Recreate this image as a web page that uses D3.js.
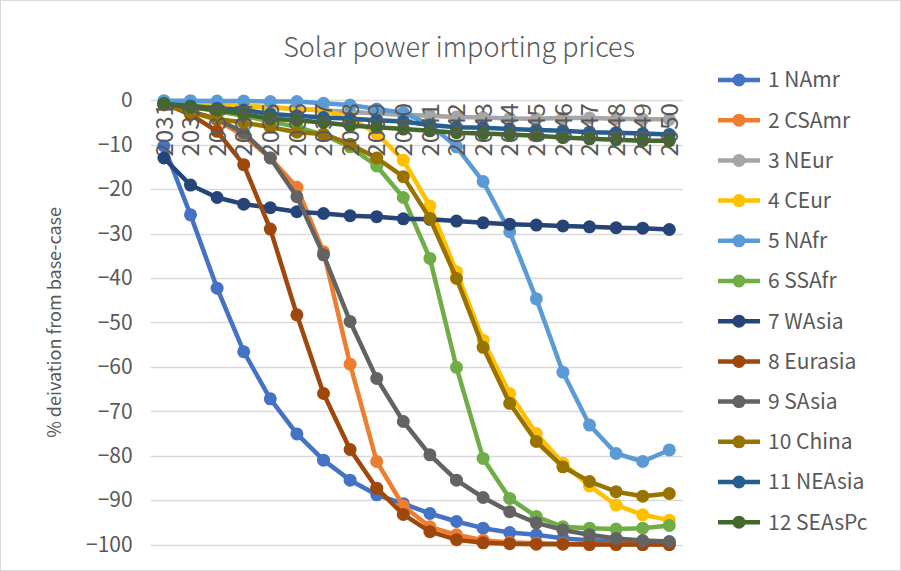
<!DOCTYPE html>
<html>
<head>
<meta charset="utf-8">
<script src="https://cdn.jsdelivr.net/npm/d3@7"></script>
<style>
  html, body { margin: 0; padding: 0; background: #fff; }
  svg text { font-family: "Noto Sans CJK SC", "Noto Sans", sans-serif; fill: #595959; }
</style>
</head>
<body>
<svg id="chart" width="901" height="571"></svg>
<script>
// Years on the category axis
const years = ["2031","2032","2033","2034","2035","2036","2037","2038","2039","2040",
               "2041","2042","2043","2044","2045","2046","2047","2048","2049","2050"];

// Value axis ticks
const yTicks = [0, -10, -20, -30, -40, -50, -60, -70, -80, -90, -100];

// Region names, in legend order
const regions = ["1 NAmr","2 CSAmr","3 NEur","4 CEur","5 NAfr","6 SSAfr",
                 "7 WAsia","8 Eurasia","9 SAsia","10 China","11 NEAsia","12 SEAsPc"];

// % deviation of solar import prices from the base case, per region and year
const NAmr    = [-10.3,-25.8,-42.3,-56.6,-67.2,-75.1,-81.0,-85.5,-88.8,-90.8,-93.0,-94.8,-96.3,-97.3,-97.8,-98.6,-99.0,-99.2,-99.4,-99.5];
const CSAmr   = [-1.0,-2.5,-4.5,-8.0,-13.0,-19.6,-34.1,-59.4,-81.3,-91.3,-96.0,-97.8,-99.0,-99.5,-99.7,-99.8,-99.9,-99.9,-100,-100];
const NEur    = [-0.5,-0.8,-1.1,-1.4,-1.6,-2.0,-2.3,-2.6,-3.0,-3.3,-3.5,-3.8,-3.9,-4.1,-4.2,-4.0,-4.0,-4.2,-4.3,-4.3];
const CEur    = [-0.5,-0.7,-1.0,-1.3,-1.6,-2.0,-2.2,-4.0,-7.5,-13.5,-23.8,-38.6,-54.0,-66.0,-75.0,-81.7,-86.8,-91.1,-93.3,-94.5];
const NAfr    = [-0.1,-0.1,-0.2,-0.2,-0.3,-0.3,-0.7,-1.1,-2.0,-2.8,-5.5,-10.5,-18.3,-29.6,-44.7,-61.2,-73.1,-79.5,-81.3,-78.7];
const SSAfr   = [-1.0,-1.5,-2.5,-3.5,-4.8,-6.0,-7.8,-10.5,-14.8,-21.9,-35.6,-60.1,-80.6,-89.6,-93.7,-96.0,-96.3,-96.5,-96.3,-95.7];
const WAsia   = [-13.0,-19.1,-21.9,-23.4,-24.2,-25.1,-25.5,-26.0,-26.2,-26.7,-26.8,-27.2,-27.6,-27.9,-28.1,-28.3,-28.5,-28.7,-28.8,-29.1];
const Eurasia = [-0.8,-3.2,-7.0,-14.5,-29.0,-48.3,-66.0,-78.6,-87.3,-93.2,-97.1,-98.9,-99.6,-99.8,-99.9,-99.9,-100,-100,-100,-100];
const SAsia   = [-1.0,-2.5,-4.2,-7.3,-13.0,-21.7,-34.8,-49.8,-62.6,-72.3,-79.8,-85.5,-89.4,-92.6,-95.1,-96.7,-97.8,-98.6,-99.1,-99.3];
const China   = [-1.0,-2.7,-4.2,-5.0,-6.1,-7.2,-7.6,-9.9,-13.0,-17.2,-26.6,-40.1,-55.6,-68.2,-76.8,-82.5,-85.8,-88.1,-89.1,-88.5];
const NEAsia  = [-0.8,-1.3,-1.8,-2.2,-3.1,-3.5,-3.9,-4.2,-4.5,-4.8,-5.6,-6.1,-6.2,-6.5,-6.7,-6.9,-7.2,-7.3,-7.5,-7.7];
const SEAsPc  = [-0.8,-1.6,-2.2,-3.1,-4.2,-4.5,-5.0,-5.7,-6.1,-6.5,-6.9,-7.3,-7.5,-7.7,-8.0,-8.4,-8.7,-8.9,-9.1,-9.1];

const seriesValues = [NAmr, CSAmr, NEur, CEur, NAfr, SSAfr, WAsia, Eurasia, SAsia, China, NEAsia, SEAsPc];
const colors = ["#4472C4","#ED7D31","#A5A5A5","#FFC000","#5B9BD5","#70AD47",
                "#264478","#9E480E","#636363","#997300","#255E91","#43682B"];

const svg = d3.select("#chart");
const W = 901, H = 571;
const plot = { left: 150.6, right: 682.6, top: 100.2, bottom: 544.6 };
const FONT = "\"Noto Sans CJK SC\", \"Noto Sans\", sans-serif";

// chart frame
svg.append("rect")
  .attr("x", 0.5).attr("y", 0.5)
  .attr("width", W - 1).attr("height", H - 1)
  .attr("fill", "#fff").attr("stroke", "#D9D9D9").attr("stroke-width", 1);

const x = d3.scaleBand().domain(years).range([plot.left, plot.right]).padding(0);
const cx = d => x(d) + x.bandwidth() / 2;
const y = d3.scaleLinear().domain([-100, 0]).range([plot.bottom, plot.top]);

// title
svg.append("text")
  .attr("x", 459).attr("y", 57)
  .attr("text-anchor", "middle")
  .style("font-size", "27px")
  .style("font-weight", "300")
  .text("Solar power importing prices");

// horizontal gridlines
svg.append("g")
  .selectAll("line")
  .data(yTicks)
  .join("line")
  .attr("x1", plot.left).attr("x2", plot.right)
  .attr("y1", d => Math.round(y(d)) + 0.5).attr("y2", d => Math.round(y(d)) + 0.5)
  .attr("stroke", "#D9D9D9").attr("stroke-width", 1.5);

// value axis labels
const yAxis = d3.axisLeft(y).tickValues(yTicks).tickSize(0).tickPadding(0).tickFormat(d3.format("d"));
const yg = svg.append("g").attr("transform", `translate(${plot.left - 18},0)`).call(yAxis);
yg.select(".domain").remove();
yg.selectAll("text")
  .style("font-size", "21px")
  .style("font-family", FONT)
  .attr("fill", "#595959");

// value axis title
svg.append("text")
  .attr("transform", `translate(61,${(plot.top + plot.bottom) / 2}) rotate(-90)`)
  .attr("text-anchor", "middle")
  .style("font-size", "18px")
  .text("% deivation from base-case");

// series lines and markers
const line = d3.line().x((d, i) => cx(years[i])).y(d => y(d));
const series = svg.append("g")
  .selectAll("g")
  .data(seriesValues)
  .join("g");

series.append("path")
  .attr("d", d => line(d))
  .attr("fill", "none")
  .attr("stroke", (d, i) => colors[i])
  .attr("stroke-width", 4.5)
  .attr("stroke-linejoin", "round")
  .attr("stroke-linecap", "round");

series.each(function (vals, i) {
  d3.select(this).selectAll("circle")
    .data(vals)
    .join("circle")
    .attr("cx", (d, j) => cx(years[j]))
    .attr("cy", d => y(d))
    .attr("r", 6.5)
    .attr("fill", colors[i]);
});

// category labels, rotated, hanging from the zero line (drawn over the series)
const xAxis = d3.axisBottom(x).tickSize(0).tickPadding(0);
const xg = svg.append("g").attr("transform", `translate(0,${y(0)})`).call(xAxis);
xg.select(".domain").remove();
xg.selectAll("text")
  .attr("transform", "rotate(-90)")
  .attr("x", -3).attr("y", 0).attr("dy", "0.36em")
  .attr("text-anchor", "end")
  .style("font-size", "24px")
  .style("font-family", FONT)
  .attr("fill", "#595959");

// legend
const legend = svg.append("g")
  .selectAll("g")
  .data(regions)
  .join("g")
  .attr("transform", (d, i) => `translate(718,${80 + i * 40.2})`);

legend.append("line")
  .attr("x1", 0).attr("x2", 42)
  .attr("stroke", (d, i) => colors[i])
  .attr("stroke-width", 4.5);

legend.append("circle")
  .attr("cx", 21).attr("r", 6.5)
  .attr("fill", (d, i) => colors[i]);

legend.append("text")
  .attr("x", 50).attr("dy", "0.35em")
  .style("font-size", "21px")
  .text(d => d);
</script>
</body>
</html>
